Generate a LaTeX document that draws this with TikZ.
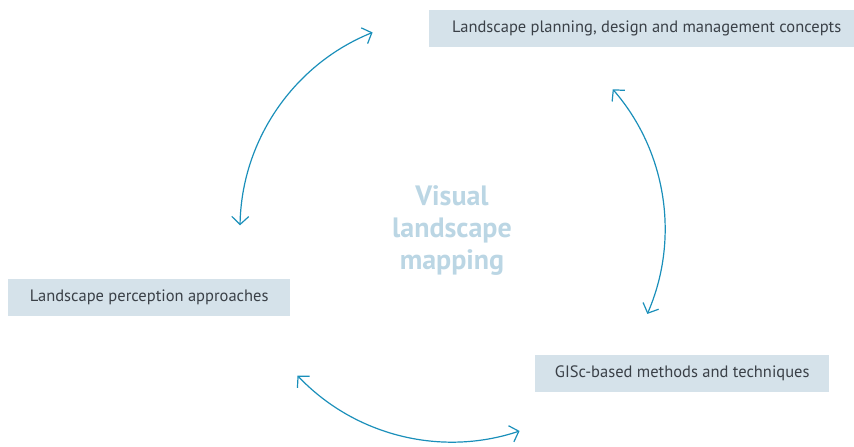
\documentclass[tikz,border=0pt]{standalone}
\usepackage{fontspec}
\setmainfont{PT Sans}
\usepackage{tikz}
\usetikzlibrary{arrows.meta}
\usetikzlibrary{calc}

\definecolor{boxfill}{HTML}{D5E2EA}
\definecolor{textgray}{HTML}{3A4047}
\definecolor{arcblue}{HTML}{1A8FBA}
\definecolor{titleblue}{HTML}{BBD6E4}

\begin{document}
\begin{tikzpicture}[x=1pt, y=1pt,
	topic/.style={fill=boxfill, text=textgray, anchor=north west, minimum height=37pt, inner sep=0pt, font=\fontsize{16.5}{18}\selectfont},
	cycle/.style={arcblue, line width=1.2pt, {Straight Barb[length=8pt,width=17pt]}-{Straight Barb[length=8pt,width=17pt]}}]
	\useasboundingbox (0,0) rectangle (854,447);
	
	% the three topics
	\node[topic, minimum width=425pt] (planning) at (429,437) {\hspace*{10pt}Landscape planning, design and management concepts};
	\node[topic, minimum width=282pt] (perception) at (8,168) {Landscape perception approaches};
	\node[topic, minimum width=294pt] (gisc) at (535,92) {GISc-based methods and techniques};
	
	% centre title
	\node[titleblue, align=center, font=\fontsize{28}{32}\selectfont\bfseries] (title) at (452,216) {Visual\\landscape\\mapping};
	
	% arc ends on one circle round the title
	\coordinate (mid) at (452,218);
	\coordinate (a1) at ($(mid)+(179:212)$);
	\coordinate (a2) at ($(mid)+(41:213)$);
	\coordinate (a3) at ($(mid)+(223.5:213)$);
	
	\draw[cycle] (a1) arc[start angle=179, end angle=112, radius=212];
	\draw[cycle] (a2) arc[start angle=41, end angle=-23.5, radius=213];
	\draw[cycle] (a3) arc[start angle=223.5, end angle=288.5, radius=213];
\end{tikzpicture}
\end{document}
